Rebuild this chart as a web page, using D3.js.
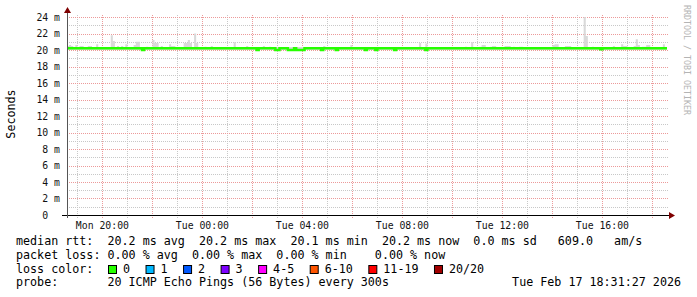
<!DOCTYPE html>
<html>
<head>
<meta charset="utf-8">
<script src="https://cdn.jsdelivr.net/npm/d3@7"></script>
<style>
body { margin: 0; background: #fff; }
svg { display: block; font-family: "DejaVu Sans Mono", monospace; }
text { white-space: pre; }
</style>
</head>
<body>
<div class="chart"></div>
<script>
// time window of the graph (24h, 5 min steps)
const startTime = new Date(2026, 1, 16, 18, 35);
const endTime = new Date(2026, 1, 17, 18, 35);
const stepMinutes = 5;

const yTicks = [0, 2, 4, 6, 8, 10, 12, 14, 16, 18, 20, 22, 24];
const yMinor = [1, 3, 5, 7, 9, 11, 13, 15, 17, 19, 21, 23];

// median rtt in ms, one value per 5 min step (rows of 2h)
const medianRtt = [
  20.2,20.2,20.2,20.2,20.2,20.2,20.2,20.2,20.2,20.2,20.2,20.2,20.2,20.2,20.2,20.2,20.2,20.2,20.2,20.2,20.2,20.2,20.2,20.2,
  20.2,20.2,20.2,20.2,20.2,20.2,20.2,20.2,20.2,20.2,20.2,20.2,20.0,20.2,20.2,20.2,20.2,20.2,20.2,20.2,20.2,20.2,20.2,20.2,
  20.2,20.2,20.2,20.2,20.2,20.2,20.2,20.2,20.2,20.2,20.2,20.2,20.2,20.2,20.2,20.2,20.2,20.2,20.2,20.2,20.2,20.2,20.2,20.2,
  20.2,20.2,20.2,20.2,20.2,20.2,20.2,20.2,20.2,20.2,20.2,20.2,20.2,20.2,20.2,20.2,20.2,20.2,20.2,20.0,20.2,20.2,20.2,20.2,
  20.2,20.2,20.2,20.2,20.0,20.0,20.2,20.2,20.2,20.2,20.0,20.0,20.0,20.2,20.0,20.0,20.0,20.0,20.2,20.2,20.2,20.2,20.2,20.2,
  20.2,20.2,20.0,20.2,20.2,20.2,20.2,20.2,20.2,20.0,20.2,20.2,20.2,20.2,20.2,20.2,20.2,20.2,20.2,20.2,20.2,20.2,20.2,20.0,
  20.2,20.2,20.2,20.2,20.0,20.2,20.2,20.2,20.2,20.2,20.2,20.2,20.2,20.0,20.2,20.2,20.2,20.2,20.2,20.2,20.2,20.2,20.2,20.2,
  20.2,20.2,20.2,20.2,20.0,20.2,20.2,20.2,20.2,20.2,20.2,20.2,20.2,20.2,20.2,20.2,20.2,20.2,20.2,20.2,20.2,20.2,20.2,20.2,
  20.2,20.2,20.2,20.2,20.2,20.2,20.2,20.2,20.2,20.2,20.2,20.2,20.2,20.2,20.2,20.2,20.2,20.2,20.2,20.2,20.2,20.2,20.2,20.2,
  20.2,20.2,20.2,20.2,20.2,20.2,20.2,20.2,20.2,20.2,20.2,20.2,20.2,20.2,20.2,20.2,20.2,20.2,20.2,20.2,20.2,20.2,20.2,20.2,
  20.2,20.2,20.2,20.2,20.2,20.2,20.2,20.2,20.2,20.2,20.2,20.2,20.2,20.2,20.2,20.2,20.1,20.2,20.2,20.2,20.2,20.2,20.2,20.2,
  20.2,20.2,20.2,20.2,20.2,20.2,20.2,20.2,20.2,20.2,20.2,20.2,20.2,20.2,20.2,20.2,20.2,20.2,20.2,20.2,20.2,20.2,20.2,20.2
];

// top of the smoke (slowest ping) in ms, same steps
const smokeTop = [
  20.5,20.6,20.5,20.35,20.6,20.35,20.5,20.5,20.35,20.35,20.5,20.5,20.35,20.35,20.7,20.35,20.35,20.35,20.35,20.35,20.35,21.8,21.1,20.35,
  20.5,20.35,20.5,20.35,20.7,20.35,20.35,20.35,20.6,21.0,21.0,20.35,20.35,20.35,20.4,20.35,20.35,21.2,20.85,20.85,20.35,20.5,20.35,20.35,
  20.35,20.7,20.5,20.5,20.35,20.35,20.35,20.35,20.85,20.85,21.2,20.85,20.35,22.0,20.85,20.35,20.35,20.35,20.4,20.35,20.35,20.5,20.35,20.35,
  20.35,20.35,20.35,20.35,20.35,20.35,20.35,20.35,20.95,20.35,20.35,20.35,20.35,20.35,20.5,20.35,20.35,20.35,20.35,20.35,20.35,20.35,20.5,20.35,
  20.35,20.4,20.35,20.35,20.35,20.35,20.35,20.35,20.35,20.35,20.35,20.35,20.35,20.35,20.35,20.35,20.35,20.35,20.35,20.35,20.35,20.35,20.35,20.35,
  20.35,20.35,20.35,20.5,20.35,20.35,20.35,20.35,20.35,20.35,20.35,20.35,20.35,20.35,20.35,20.35,20.6,20.35,20.35,20.35,20.35,20.35,20.35,20.35,
  20.35,20.35,20.35,20.35,20.35,20.35,20.35,20.35,20.35,20.35,20.35,20.35,20.35,20.35,20.35,20.35,20.35,20.35,20.35,20.35,20.35,20.35,20.35,20.35,
  20.35,20.85,20.35,20.35,20.8,20.35,20.35,20.35,20.35,20.35,20.35,20.35,20.35,20.35,20.35,20.35,20.35,20.35,20.35,20.35,20.35,20.35,20.35,20.4,
  20.35,20.35,20.95,20.35,20.35,20.35,20.4,20.6,20.6,20.35,20.35,20.4,20.5,20.5,20.35,20.35,20.35,20.35,20.5,20.5,20.5,20.35,20.4,20.35,
  20.35,20.4,20.4,20.35,20.35,20.35,20.35,20.35,20.35,20.35,20.35,20.35,20.35,20.35,20.35,20.35,20.35,20.6,20.7,20.7,20.35,20.35,20.35,20.5,
  20.5,20.5,20.35,20.35,20.35,20.35,20.35,20.35,24.0,21.7,20.35,20.35,20.4,20.35,20.35,20.35,20.35,20.35,20.35,20.35,20.35,20.35,20.5,20.35,
  20.35,20.35,20.7,20.5,20.5,20.35,20.35,20.35,20.5,21.3,20.6,20.35,20.4,20.4,20.6,20.6,20.35,20.35,20.35,20.35,20.35,20.35,20.7,20.35
];

const rttStats = ["20.2 ms avg", "20.2 ms max", "20.1 ms min", "20.2 ms now", "0.0 ms sd"];
const amsValue = "609.0";
const lossStats = ["0.00 % avg", "0.00 % max", "0.00 % min", "0.00 % now"];
const lossLabels = ["0", "1", "2", "3", "4-5", "6-10", "11-19", "20/20"];
const lossColors = ["#26ff00", "#00b8ff", "#0059ff", "#7e00ff", "#ff00ff", "#ff5500", "#ff0000", "#a10000"];
const probeText = "20 ICMP Echo Pings (56 Bytes) every 300s";
const stampText = "Tue Feb 17 18:31:27 2026";

const W = 697, H = 297;
const svg = d3.select(".chart").append("svg")
    .attr("width", W)
    .attr("height", H);

const x = d3.scaleTime().domain([startTime, endTime]).range([67, 667]);
const y = d3.scaleLinear().domain([0, 24]).range([215, 17]);

const minorColor = "#c8c8c8", majorColor = "#ec9a9a";

// grid
const grid = svg.append("g").attr("shape-rendering", "crispEdges");
grid.selectAll(".hmin").data(yMinor).enter().append("line")
    .attr("x1", 67).attr("x2", 669)
    .attr("y1", d => Math.round(y(d)) + 0.5).attr("y2", d => Math.round(y(d)) + 0.5)
    .attr("stroke", minorColor).attr("stroke-dasharray", "1,1");
const hours = d3.timeHour.range(startTime, endTime);
grid.selectAll(".vmin").data(hours.filter(d => d.getHours() % 2 == 1)).enter().append("line")
    .attr("x1", d => Math.round(x(d)) + 0.5).attr("x2", d => Math.round(x(d)) + 0.5)
    .attr("y1", 15).attr("y2", 218)
    .attr("stroke", minorColor).attr("stroke-dasharray", "1,1");
grid.selectAll(".hmaj").data(yTicks.slice(1)).enter().append("line")
    .attr("x1", 67).attr("x2", 669)
    .attr("y1", d => Math.round(y(d)) + 0.5).attr("y2", d => Math.round(y(d)) + 0.5)
    .attr("stroke", majorColor).attr("stroke-dasharray", "1,1");
grid.selectAll(".vmaj").data(hours.filter(d => d.getHours() % 2 == 0)).enter().append("line")
    .attr("x1", d => Math.round(x(d)) + 0.5).attr("x2", d => Math.round(x(d)) + 0.5)
    .attr("y1", 15).attr("y2", 218)
    .attr("stroke", majorColor).attr("stroke-dasharray", "1,1");

// samples
const stepTime = i => d3.timeMinute.offset(startTime, i * stepMinutes);
const samples = medianRtt.map((m, i) => ({t: stepTime(i), median: m, top: smokeTop[i]}));
samples.push({t: stepTime(medianRtt.length), median: medianRtt[medianRtt.length - 1], top: smokeTop[smokeTop.length - 1]});

const smoke = d3.area()
    .x(d => x(d.t))
    .y0(y(20.0))
    .y1(d => y(d.top))
    .curve(d3.curveStepAfter);
svg.append("path").datum(samples)
    .attr("d", smoke)
    .attr("fill", "#d9d9d9");

const medLine = d3.line()
    .x(d => x(d.t))
    .y(d => y(d.median))
    .curve(d3.curveStepAfter);
svg.append("path").datum(samples)
    .attr("d", medLine)
    .attr("fill", "none")
    .attr("stroke", lossColors[0])
    .attr("stroke-width", 2.5);

// axes
svg.append("line").attr("x1", 62).attr("x2", 670).attr("y1", 215.5).attr("y2", 215.5)
    .attr("stroke", "#000");
svg.append("line").attr("x1", 67.5).attr("x2", 67.5).attr("y1", 12).attr("y2", 218)
    .attr("stroke", "#555");
svg.append("path").attr("d", "M67.5,7 L64,13 L71,13 Z").attr("fill", "#7f0000");
svg.append("path").attr("d", "M675,215.5 L669,212 L669,219 Z").attr("fill", "#7f0000");

// y tick labels
svg.selectAll(".ylab").data(yTicks).enter().append("text")
    .attr("x", 60)
    .attr("y", d => y(d) + 3.5)
    .attr("text-anchor", "end")
    .attr("font-size", "9.8px")
    .attr("fill", "#111")
    .text(d => d == 0 ? "0  " : d + " m");

// x tick labels
svg.selectAll(".xlab").data(d3.timeHour.every(4).range(startTime, endTime)).enter().append("text")
    .attr("x", d => x(d))
    .attr("y", 229)
    .attr("text-anchor", "middle")
    .attr("font-size", "9.8px")
    .attr("fill", "#111")
    .text(d => d3.timeFormat("%a %H:%M")(d));

// y title
svg.append("text")
    .attr("transform", "translate(15,114) rotate(-90)")
    .attr("text-anchor", "middle")
    .attr("font-size", "11.7px")
    .text("Seconds");

// watermark
svg.append("text")
    .attr("transform", "translate(684,5) rotate(90)")
    .attr("font-size", "8.3px")
    .attr("fill", "#b4b4b4")
    .text("RRDTOOL / TOBI OETIKER");

// legend
const fs = "11.7px";
const line1 = "median rtt:  " + rttStats.join("  ") + "   " + amsValue + "   am/s";
const line2 = "packet loss: " + lossStats.slice(0, 3).join("  ") + "    " + lossStats[3];
svg.append("text").attr("x", 16).attr("y", 245).attr("font-size", fs).text(line1);
svg.append("text").attr("x", 16).attr("y", 258.8).attr("font-size", fs).text(line2);
svg.append("text").attr("x", 16).attr("y", 272.6).attr("font-size", fs).text("loss color:");
svg.append("text").attr("x", 16).attr("y", 286.4).attr("font-size", fs).text("probe:       " + probeText);
svg.append("text").attr("x", 681).attr("y", 286.4).attr("text-anchor", "end").attr("font-size", fs).text(stampText);

const charW = 7.03;
let cursor = 108;
lossLabels.forEach((lab, i) => {
    svg.append("rect")
        .attr("x", cursor + 0.5).attr("y", 265.5)
        .attr("width", 8).attr("height", 8)
        .attr("fill", lossColors[i])
        .attr("stroke", "#000");
    svg.append("text")
        .attr("x", cursor + 15).attr("y", 272.6)
        .attr("font-size", fs)
        .text(lab);
    cursor = cursor + 15 + lab.length * charW + 15.5;
});
</script>
</body>
</html>
